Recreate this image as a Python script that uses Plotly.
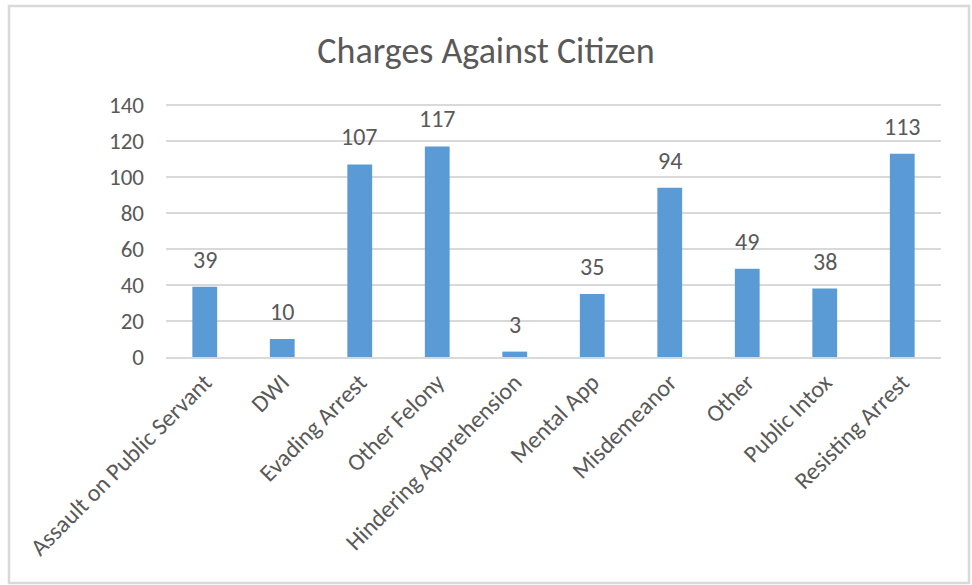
import plotly.graph_objs as go

categories = ['Assault on Public Servant', 'DWI', 'Evading Arrest', 'Other Felony',
              'Hindering Apprehension', 'Mental App', 'Misdemeanor', 'Other',
              'Public Intox', 'Resisting Arrest']
counts = [39, 10, 107, 117, 3, 35, 94, 49, 38, 113]
y_ticks = [0, 20, 40, 60, 80, 100, 120, 140]

W, H = 972, 585
L, R, T, B = 166, 31, 104, 228
pw, ph = W - L - R, H - T - B


def px_to_paper(x, y):
    return (x - L) / pw, (H - B - y) / ph


x0, y0 = px_to_paper(9, 583)
x1, y1 = px_to_paper(969, 6)

font = "Carlito, Calibri, Lato, sans-serif"
grey = "#595959"

trace = go.Bar(x=categories, y=counts, marker=dict(color='#5B9BD5', line=dict(width=0)),
               hoverinfo='x+y')

# value labels above the bars
labels = [dict(x=c, y=v, text=str(v), showarrow=False, yanchor='bottom', yshift=11,
               font=dict(family=font, size=24, color=grey))
          for c, v in zip(categories, counts)]

layout = go.Layout(
    width=W, height=H,
    margin=dict(l=L, r=R, t=T, b=B),
    paper_bgcolor='white', plot_bgcolor='white',
    title=dict(text='Charges Against Citizen', x=0.5, xanchor='center', y=1 - 50 / H, yanchor='middle',
               font=dict(family=font, size=36, color=grey)),
    xaxis=dict(tickangle=-45, tickfont=dict(family=font, size=24, color=grey), automargin=False,
               showline=True, linecolor='#d9d9d9', linewidth=1.5, ticks='', showgrid=False),
    yaxis=dict(range=[0, 140.6], tickvals=y_ticks, tickfont=dict(family=font, size=23, color=grey),
               showgrid=True, gridcolor='#d9d9d9', gridwidth=1.5, zeroline=False, automargin=False,
               showline=False, ticks='', ticklabelstandoff=21),
    bargap=0.68,
    showlegend=False,
    annotations=labels,
    shapes=[dict(type='rect', xref='paper', yref='paper', x0=x0, y0=y0, x1=x1, y1=y1,
                 line=dict(color='#d9d9d9', width=2.5), layer='below')],
)

fig = go.Figure(data=[trace], layout=layout)
# drop the page's default body margin so the chart sits at the window's corner
fig.write_html("out.html", config={'displayModeBar': False},
               post_script="document.body.style.margin='0';")
